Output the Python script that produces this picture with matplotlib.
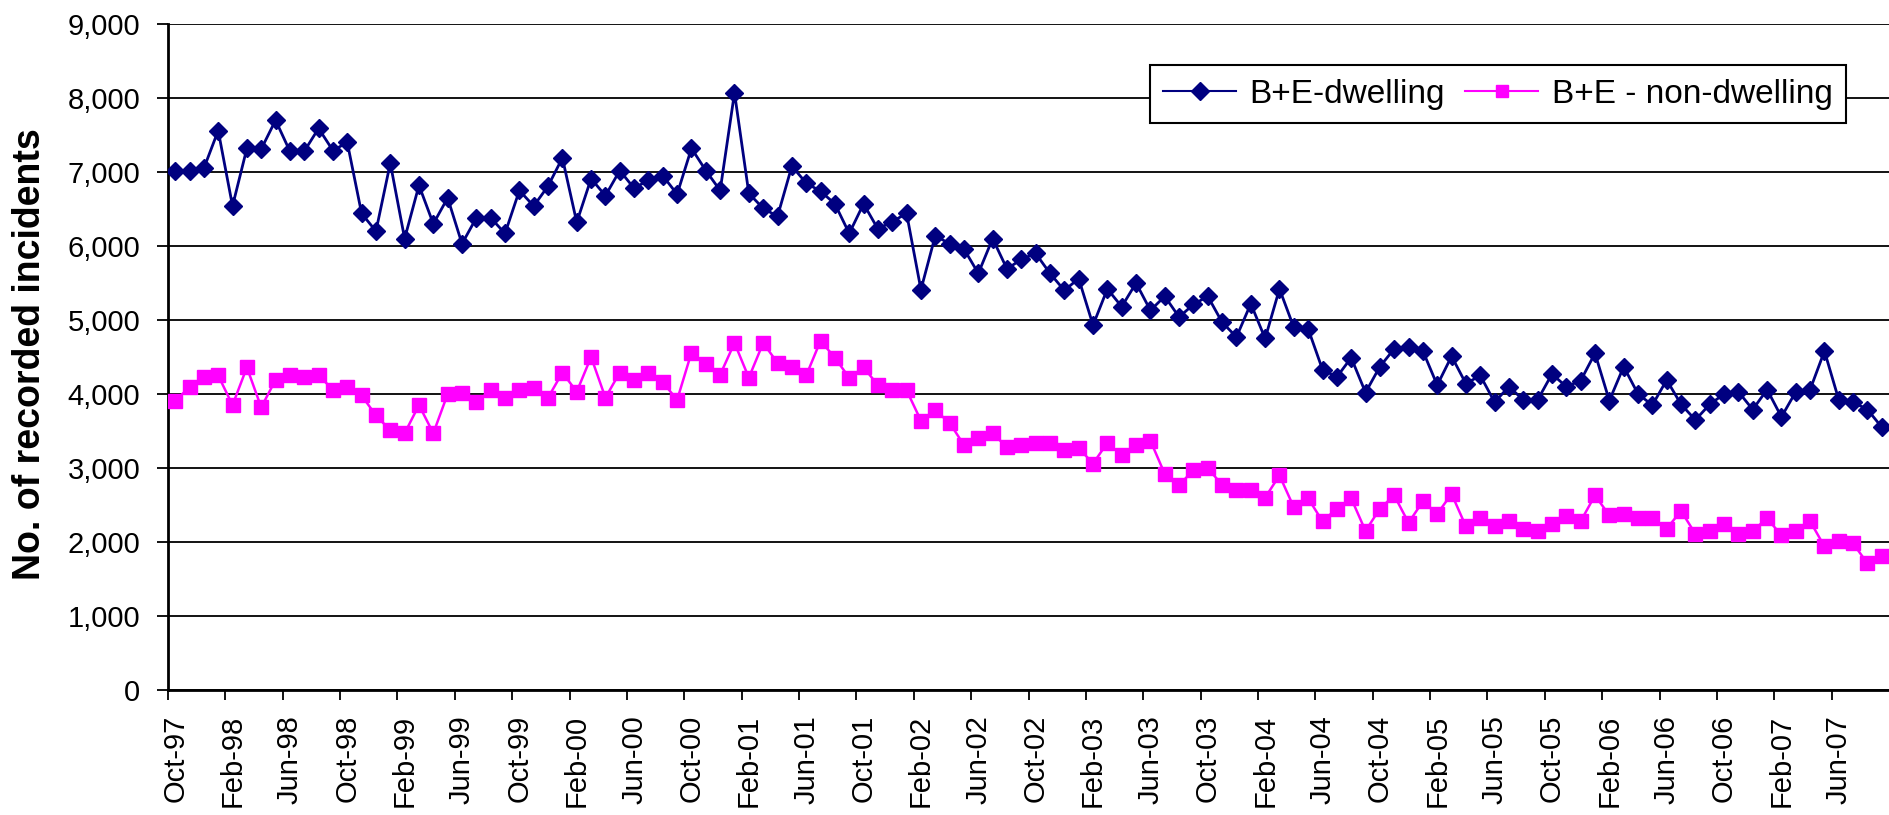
import matplotlib.pyplot as plt
import pandas as pd

# Monthly recorded incidents, Oct-97 .. Sep-07
months = pd.date_range("1997-10-01", periods=120, freq="MS").strftime("%b-%y").tolist()

dwelling = [
    7020, 7010, 7050, 7560, 6540, 7320, 7310, 7700, 7280, 7280,
    7590, 7290, 7400, 6440, 6200, 7120, 6100, 6820, 6300, 6650,
    6030, 6380, 6380, 6170, 6750, 6540, 6810, 7190, 6320, 6910,
    6680, 7020, 6780, 6890, 6950, 6700, 7320, 7020, 6750, 8070,
    6710, 6510, 6400, 7080, 6850, 6740, 6570, 6170, 6570, 6230,
    6330, 6440, 5410, 6140, 6030, 5960, 5630, 6100, 5690, 5820,
    5900, 5630, 5400, 5560, 4930, 5420, 5180, 5500, 5130, 5320,
    5040, 5210, 5320, 4970, 4770, 5220, 4750, 5420, 4900, 4880,
    4330, 4230, 4490, 4020, 4370, 4610, 4640, 4580, 4120, 4510,
    4140, 4250, 3890, 4100, 3920, 3920, 4270, 4100, 4180, 4550,
    3910, 4370, 4000, 3850, 4190, 3860, 3650, 3860, 4000, 4030,
    3790, 4060, 3690, 4030, 4060, 4580, 3920, 3890, 3790, 3550,
]

non_dwelling = [
    3910, 4090, 4230, 4250, 3850, 4360, 3820, 4190, 4250, 4230,
    4250, 4060, 4090, 3980, 3710, 3510, 3470, 3850, 3470, 4000,
    4020, 3890, 4050, 3950, 4050, 4080, 3950, 4290, 4030, 4500,
    3950, 4290, 4190, 4290, 4160, 3920, 4560, 4400, 4260, 4690,
    4220, 4690, 4420, 4360, 4250, 4720, 4490, 4220, 4360, 4120,
    4050, 4050, 3640, 3780, 3610, 3310, 3400, 3470, 3280, 3310,
    3340, 3340, 3240, 3270, 3060, 3340, 3170, 3310, 3370, 2920,
    2770, 2970, 3000, 2770, 2700, 2700, 2600, 2900, 2470, 2590,
    2280, 2450, 2590, 2150, 2450, 2630, 2260, 2550, 2380, 2650,
    2210, 2320, 2210, 2280, 2180, 2150, 2250, 2350, 2280, 2630,
    2360, 2380, 2320, 2320, 2180, 2420, 2110, 2150, 2250, 2110,
    2150, 2320, 2090, 2150, 2280, 1940, 2010, 1980, 1710, 1810,
]

y_ticks = [0, 1000, 2000, 3000, 4000, 5000, 6000, 7000, 8000, 9000]

plt.rcParams["font.family"] = ["Liberation Sans", "DejaVu Sans"]

fig = plt.figure(figsize=(18.89, 8.15), dpi=100)
ax = fig.add_axes([168 / 1889, 1 - 690 / 815, 1 - 168 / 1889, (690 - 24) / 815])

x = list(range(len(months)))
ax.plot(x, dwelling, color="#000080", linewidth=2.0, marker="D",
        markersize=9.5, label="B+E-dwelling", zorder=4)
ax.plot(x, non_dwelling, color="#FF00FF", linewidth=1.8, marker="s",
        markersize=10.5, label="B+E - non-dwelling", zorder=3)

# Axis limits and y ticks
ax.set_xlim(-0.5, len(months) - 0.5)
ax.set_ylim(0, 9000)
ax.set_yticks(y_ticks)
ax.set_yticklabels([f"{v:,}" for v in y_ticks], fontsize=21)
ax.yaxis.grid(True, color="black", linewidth=1.3)
ax.set_axisbelow(True)

# Category ticks on boundaries, labels centred on categories
ax.set_xticks([i - 0.5 for i in range(0, len(months), 4)])
ax.set_xticklabels([])
ax.set_xticks(list(range(0, len(months), 4)), minor=True)
ax.set_xticklabels(months[::4], minor=True, rotation=90, fontsize=21)
ax.tick_params(axis="x", which="major", direction="out", length=7, width=1.3)
ax.tick_params(axis="x", which="minor", length=0, pad=18)
ax.tick_params(axis="y", direction="out", length=8, width=1.3, pad=12)

for side in ["top", "right"]:
    ax.spines[side].set_visible(False)
for side in ["left", "bottom"]:
    ax.spines[side].set_linewidth(2)
    ax.spines[side].set_color("black")

fig.text(0.016, 0.565, "No. of recorded incidents", rotation=90,
         ha="center", va="center", fontsize=27, fontweight="bold")

leg = ax.legend(loc="upper right", bbox_to_anchor=(0.975, 0.938), ncol=2,
                fontsize=24, frameon=True, fancybox=False, framealpha=1,
                edgecolor="black", borderaxespad=0, numpoints=1,
                handlelength=2.2, columnspacing=0.6, handletextpad=0.4,
                borderpad=0.4)
leg.get_frame().set_linewidth(1.5)
for h in leg.legend_handles:
    h.set_linewidth(1.5)
leg.legend_handles[0].set_markersize(9)
leg.legend_handles[1].set_markersize(9)

fig.savefig("out.png", dpi=100)
